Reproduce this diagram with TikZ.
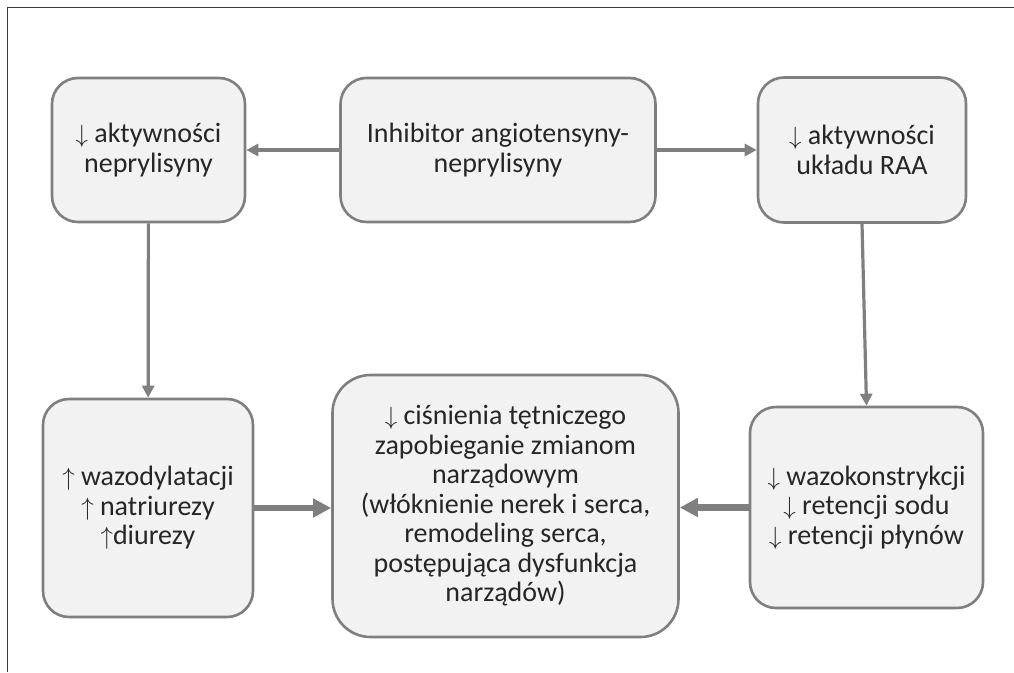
\documentclass[tikz,border=0pt]{standalone}
\usepackage{fontspec}
\setmainfont{Carlito}
\usepackage{tikz}
\usetikzlibrary{arrows.meta}
\definecolor{boxfill}{HTML}{F2F2F2}
\definecolor{boxline}{HTML}{7F7F7F}
\definecolor{frameline}{HTML}{3A3A3A}
\newcommand{\dn}{$\downarrow$}
\newcommand{\up}{$\uparrow$}
\tikzset{
  box/.style={draw=boxline, line width=2.6pt, fill=boxfill, rounded corners=26pt,
    align=center, inner sep=0pt, text=black!85, font=\fontsize{28}{29.5}\selectfont},
  bigbox/.style={box, rounded corners=38pt},
  thinarrow/.style={draw=boxline, line width=3.2pt, -{Triangle[length=12pt,width=12pt]}},
  thickarrow/.style={draw=boxline, line width=6.5pt, -{Triangle[length=18pt,width=18pt]}}
}
\begin{document}
\begin{tikzpicture}[x=1pt,y=-1pt]
\useasboundingbox (0,0) rectangle (1014,672);
% frame (top and left edge only)
\draw[frameline, line width=1.5pt] (7.5,672) -- (7.5,7.5) -- (1014,7.5);

% top row
\node[box, minimum width=193pt, minimum height=144pt] (nep) at (148.5,150) {\dn{} aktywności\\neprylisyny};
\node[box, minimum width=315pt, minimum height=144pt] (inh) at (498,150) {Inhibitor angiotensyny-\\neprylisyny};
\node[box, minimum width=208pt, minimum height=145pt] (raa) at (862,150) {\dn{} aktywności\\układu RAA};

% bottom row
\node[box, minimum width=210pt, minimum height=218pt] (wazo) at (148,508) {\up{} wazodylatacji\\\up{} natriurezy\\\up{}diurezy};
\node[bigbox, minimum width=346pt, minimum height=262pt] (cis) at (505.5,506) {\dn{} ciśnienia tętniczego\\zapobieganie zmianom\\narządowym\\(włóknienie nerek i serca,\\remodeling serca,\\postępująca dysfunkcja\\narządów)};
\node[box, minimum width=233pt, minimum height=201pt] (kon) at (866.5,507.5) {\dn{} wazokonstrykcji\\\dn{} retencji sodu\\\dn{} retencji płynów};

% arrows
\draw[thinarrow] (inh) -- (nep);
\draw[thinarrow] (inh) -- (raa);
\draw[thinarrow] (nep) -- (wazo);
\draw[thinarrow] (raa.south) -- (kon.north);
\draw[thickarrow] (wazo.east) -- (wazo.east -| cis.west);
\draw[thickarrow] (kon.west) -- (kon.west -| cis.east);
\end{tikzpicture}
\end{document}
